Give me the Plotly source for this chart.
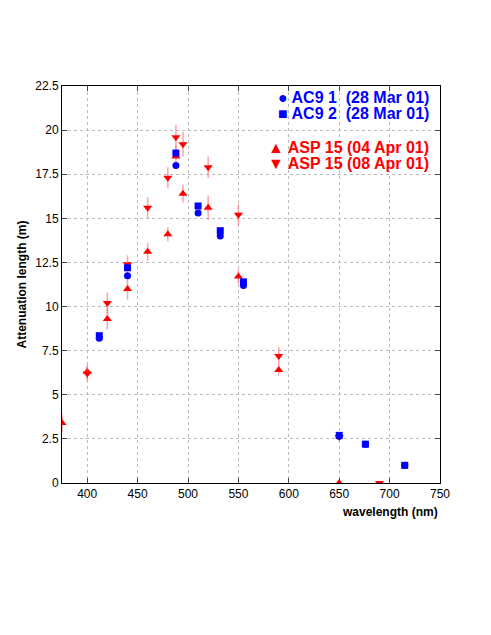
import plotly.graph_objects as go

wl_ac9 = [412, 440, 488, 510, 532, 555, 650, 676, 715]
ac9_1 = [8.2, 11.75, 18.0, 15.3, 14.0, 11.2, 2.65, 2.2, 1.0]
ac9_2 = [8.35, 12.2, 18.7, 15.7, 14.3, 11.4, 2.7, 2.2, 1.0]
wl_a = [375, 400, 420, 440, 460, 480, 488, 495, 520, 550, 590, 650]
asp_a = [3.4, 6.3, 9.3, 11.0, 13.1, 14.1, 18.5, 16.4, 15.6, 11.7, 6.4, 0.0]
err_a = [0.5, 0.4, 0.6, 0.6, 0.5, 0.4, 0.6, 0.5, 0.7, 0.4, 0.3, 0.2]
wl_b = [400, 420, 440, 460, 480, 488, 495, 520, 550, 590, 650, 690]
asp_b = [6.2, 10.2, 12.4, 15.6, 17.3, 19.6, 19.2, 17.9, 15.2, 7.2, 2.6, 0.0]
err_b = [0.4, 0.6, 0.5, 0.6, 0.6, 0.7, 0.7, 0.6, 0.6, 0.5, 0.2, 0.1]

fig = go.Figure()
fig.add_trace(go.Scatter(x=wl_a, y=asp_a, mode="markers", name="ASP 15 (04 Apr 01)",
    error_y=dict(array=err_a, color="rgba(255,100,100,0.6)", thickness=1.5, width=0),
    marker=dict(symbol="triangle-up", color="red", size=8)))
fig.add_trace(go.Scatter(x=wl_b, y=asp_b, mode="markers", name="ASP 15 (08 Apr 01)",
    error_y=dict(array=err_b, color="rgba(255,100,100,0.6)", thickness=1.5, width=0),
    marker=dict(symbol="triangle-down", color="red", size=8)))
fig.add_trace(go.Scatter(x=wl_ac9, y=ac9_1, mode="markers", name="AC9 1  (28 Mar 01)",
    marker=dict(symbol="circle", color="blue", size=7)))
fig.add_trace(go.Scatter(x=wl_ac9, y=ac9_2, mode="markers", name="AC9 2  (28 Mar 01)",
    marker=dict(symbol="square", color="blue", size=7)))

ax = dict(showline=True, linecolor="black", linewidth=1, mirror="ticks", ticks="inside",
          showgrid=True, gridcolor="#bbbbbb", griddash="dot", gridwidth=1, zeroline=False,
          tickfont=dict(family="Liberation Sans", size=12, color="black"))
fig.update_xaxes(range=[375, 750], dtick=50, **ax)
fig.update_yaxes(range=[0, 22.5], dtick=2.5,
                 title=dict(text="<b>Attenuation length (m)</b>", font=dict(size=12, family="Liberation Sans", color="black"), standoff=6), **ax)

fig.add_annotation(text="<b>wavelength (nm)</b>", x=1.0, y=-0.05, xref="paper", yref="paper",
                   xanchor="right", yanchor="top", showarrow=False,
                   font=dict(size=12, color="black", family="Liberation Sans"))

legend_items = [("● AC9 1  (28 Mar 01)", "blue", 0.970), ("■ AC9 2  (28 Mar 01)", "blue", 0.930),
                ("▲ ASP 15 (04 Apr 01)", "red", 0.844), ("▼ ASP 15 (08 Apr 01)", "red", 0.804)]
for t, c, yy in legend_items:
    fig.add_annotation(text="<b>" + t + "</b>", x=0.976, y=yy, xref="paper", yref="paper",
                       xanchor="right", yanchor="middle", showarrow=False,
                       font=dict(size=16, color=c, family="Liberation Sans"))

fig.update_layout(width=491, height=635, plot_bgcolor="white", paper_bgcolor="white",
                  showlegend=False, margin=dict(l=54, r=59, t=78, b=160))
fig.write_html("out.html")
